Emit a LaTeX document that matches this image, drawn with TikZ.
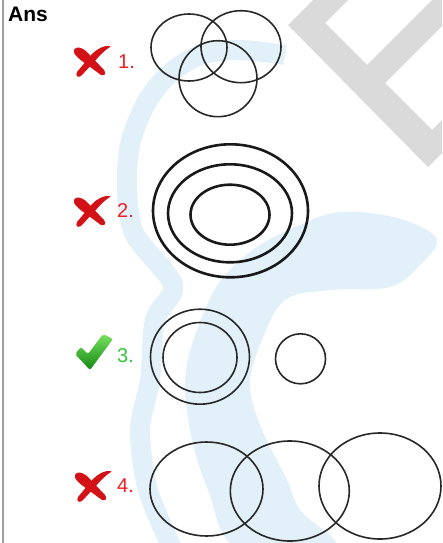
\documentclass[tikz,border=0pt]{standalone}
\usepackage{fontspec}
\setmainfont{Liberation Sans}
\definecolor{wmblue}{RGB}{225,240,249}
\definecolor{wmgray}{RGB}{218,218,218}
\definecolor{ansred}{RGB}{240,30,35}
\definecolor{ansgreen}{RGB}{45,200,60}
\definecolor{xred}{RGB}{210,18,22}
\definecolor{ringcol}{RGB}{40,40,40}
\definecolor{bordergray}{RGB}{160,160,160}
\tikzset{
  thinring/.style={draw=ringcol,line width=1.6pt},
  thickring/.style={draw=black!90,line width=2.6pt},
  numlabel/.style={anchor=base west,inner sep=0pt,font=\fontsize{20}{24}\selectfont},
  crossmark/.pic={
    \fill[xred] (1,5) .. controls (3,1) and (8,2) .. (13,6) -- (31,25)
      .. controls (34,29) and (31,31) .. (28,30) -- (9,16) .. controls (4,12) and (0,9) .. cycle;
    \fill[xred] (37,1) .. controls (31,0) and (24,4) .. (19,9) -- (4,27)
      .. controls (2,31) and (5,33) .. (8,31) -- (22,16) .. controls (27,10) and (32,5) .. (37,2) -- cycle;
  },
  checkmark/.pic={
    \shade[top color={rgb,255:red,120;green,225;blue,95},bottom color={rgb,255:red,20;green,135;blue,20},rounded corners=2pt]
      (0,19) -- (6,12) -- (13,19) -- (28,-1) -- (38,4) -- (15,35) -- cycle;
  }
}
\begin{document}
\begin{tikzpicture}[x=1pt,y=-1pt]
\useasboundingbox (0,0) rectangle (442,543);
\fill[white] (0,0) rectangle (442,543);
% watermark
\begin{scope}
\clip (0,0) rectangle (442,543);
\fill[wmgray] (288,25) -- (313,0) -- (348,0) -- (325,23) -- (367,65) -- (432,0) -- (442,0) -- (442,26)
  -- (385,83) -- (432,130) -- (442,120) -- (442,153) -- (428,167) -- cycle;
\fill[wmblue] plot[smooth cycle, tension=0.6] coordinates {(437,240) (410,222) (370,213) (333,213) (300,225) (260,245)
  (225,275) (205,310) (186,370) (190,430) (208,490) (238,548) (335,548) (300,510) (287,480) (262,430) (250,385)
  (262,340) (285,300) (330,290) (390,287) (420,265)};
\draw[wmblue,line width=20pt] plot[smooth, tension=0.5] coordinates {(285,55) (240,50) (200,55) (168,75) (145,105)
  (130,145) (127,190) (135,235) (173,285) (155,320) (150,380) (140,430) (148,490) (172,548)};
\end{scope}
% left border
\draw[bordergray,line width=2.5pt] (2.8,0) -- (2.8,543);
% title
\node[anchor=base west,inner sep=0pt,font=\fontsize{21}{25}\selectfont\bfseries] (ans) at (8,22) {Ans};
% option 1
\pic at (73,45) {crossmark};
\node[numlabel,text=ansred] (l1) at (118,68) {1.};
\draw[thinring] (189,47.5) ellipse [x radius=38pt, y radius=33.5pt];
\draw[thinring] (241,46.7) ellipse [x radius=40pt, y radius=36pt];
\draw[thinring] (218,78.7) ellipse [x radius=39pt, y radius=38pt];
% option 2
\pic at (73,195) {crossmark};
\node[numlabel,text=ansred] (l2) at (117,217) {2.};
\draw[thickring] (230.5,210.8) ellipse [x radius=77.5pt, y radius=66.5pt];
\draw[thickring] (230,213.3) ellipse [x radius=62pt, y radius=49pt];
\draw[thickring] (230,214.7) ellipse [x radius=39.5pt, y radius=30pt];
% option 3
\pic at (75,335) {checkmark};
\node[numlabel,text=ansgreen] (l3) at (117,362) {3.};
\draw[thinring] (200,356.7) ellipse [x radius=49.5pt, y radius=47.5pt];
\draw[thinring] (200,357.5) ellipse [x radius=37pt, y radius=35pt];
\draw[thinring] (300.5,358.8) ellipse [x radius=25pt, y radius=25pt];
% option 4
\pic at (74,470) {crossmark};
\node[numlabel,text=ansred] (l4) at (117,492) {4.};
\draw[thinring] (206.5,489) ellipse [x radius=56.5pt, y radius=47pt];
\draw[thinring] (289.8,491) ellipse [x radius=59.5pt, y radius=50pt];
\draw[thinring] (380,486) ellipse [x radius=61pt, y radius=53pt];
\end{tikzpicture}
\end{document}
